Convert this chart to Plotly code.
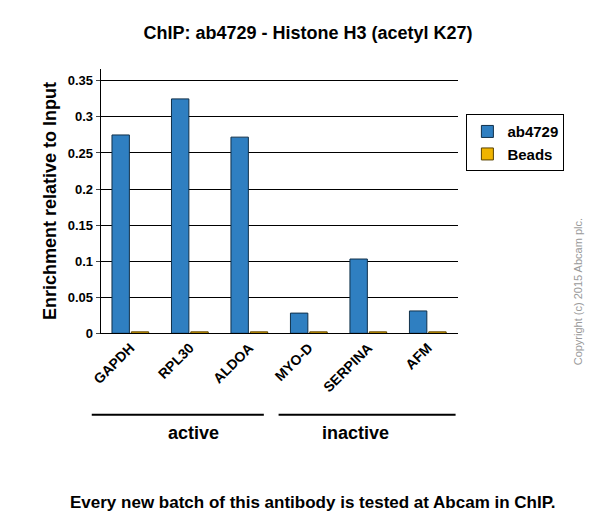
import plotly.graph_objects as go

genes = ["GAPDH", "RPL30", "ALDOA", "MYO-D", "SERPINA", "AFM"]
ab4729 = [0.275, 0.325, 0.272, 0.028, 0.103, 0.031]
beads = [0.002, 0.002, 0.002, 0.002, 0.002, 0.002]
y_ticks = [0, 0.05, 0.1, 0.15, 0.2, 0.25, 0.3, 0.35]
y_labels = ["0", "0.05", "0.1", "0.15", "0.2", "0.25", "0.3", "0.35"]

font = "Arial, Liberation Sans, sans-serif"

fig = go.Figure()
fig.add_trace(go.Bar(x=["<b>%s</b>" % g for g in genes], y=ab4729, name="<b>ab4729</b>",
                     marker=dict(color="#2f7fc1", line=dict(color="#10304a", width=1))))
fig.add_trace(go.Bar(x=["<b>%s</b>" % g for g in genes], y=beads, name="<b>Beads</b>",
                     marker=dict(color="#f0b400", line=dict(color="#5a4300", width=1))))

fig.update_layout(
    width=600, height=526,
    margin=dict(l=0, r=0, t=0, b=0),
    paper_bgcolor="white", plot_bgcolor="white",
    font=dict(family=font, color="black", size=13),
    barmode="group", bargap=0.35, bargroupgap=0.1,
    title=dict(text="<b>ChIP: ab4729 - Histone H3 (acetyl K27)</b>", x=0.5, xanchor="center", y=0.965, font=dict(size=18)),
    xaxis=dict(domain=[0.14, 0.745], tickangle=-45, tickfont=dict(size=14, family=font), showline=True, linecolor="black"),
    yaxis=dict(domain=[0.372, 0.883], range=[0, 0.367], tickvals=y_ticks, ticktext=["<b>%s</b>" % t for t in y_labels],
               showgrid=True, gridcolor="black", gridwidth=1, showline=True, linecolor="black",
               ticks="outside", ticklen=4, tickfont=dict(size=13),
               title=dict(text="<b>Enrichment relative to Input</b>", font=dict(size=18), standoff=6)),
    legend=dict(x=0.76, y=0.795, xanchor="left", yanchor="top", bordercolor="black", borderwidth=1,
                font=dict(size=15), bgcolor="white"),
    showlegend=True,
)

fig.add_shape(type="line", xref="paper", yref="paper", x0=75/600, x1=250/600, y0=1-413/526, y1=1-413/526, line=dict(color="black", width=2))
fig.add_shape(type="line", xref="paper", yref="paper", x0=265/600, x1=445/600, y0=1-413/526, y1=1-413/526, line=dict(color="black", width=2))
fig.add_annotation(text="<b>active</b>", xref="paper", yref="paper", x=150/600, y=1-444/526, showarrow=False, font=dict(size=18))
fig.add_annotation(text="<b>inactive</b>", xref="paper", yref="paper", x=343/600, y=1-444/526, showarrow=False, font=dict(size=18))
fig.add_annotation(text="<b>Every new batch of this antibody is tested at Abcam in ChIP.</b>", xref="paper", yref="paper",
                   x=0.5, y=1-514/526, showarrow=False, font=dict(size=17))
fig.add_annotation(text="Copyright (c) 2015 Abcam plc.", xref="paper", yref="paper", x=578/600, y=1-365/526,
                   showarrow=False, textangle=-90, font=dict(size=11, color="#999999"))

fig.write_html("out.html")
